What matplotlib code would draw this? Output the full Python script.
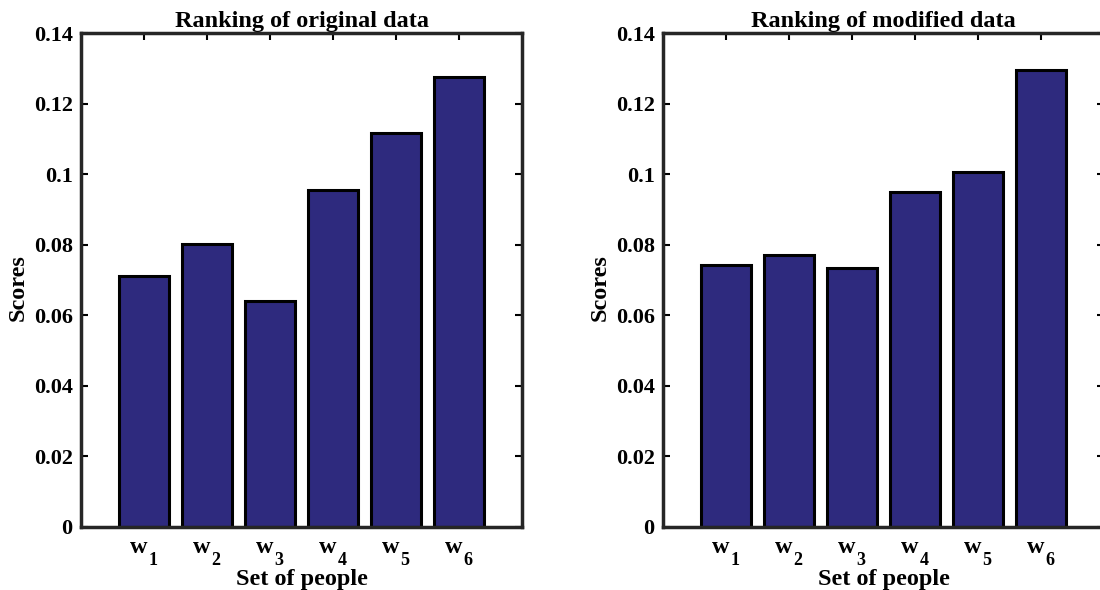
import matplotlib
matplotlib.use("Agg")
import matplotlib.pyplot as plt
from matplotlib import transforms

plt.rcParams['font.family'] = ['Liberation Serif', 'DejaVu Serif']
plt.rcParams['font.weight'] = 'bold'

categories = ['1', '2', '3', '4', '5', '6']
original_scores = [0.0711, 0.0802, 0.0641, 0.0954, 0.1116, 0.1274]
modified_scores = [0.0741, 0.0771, 0.0733, 0.0949, 0.1005, 0.1295]
ytick_values = [0, 0.02, 0.04, 0.06, 0.08, 0.10, 0.12, 0.14]
ytick_labels = ['0', '0.02', '0.04', '0.06', '0.08', '0.1', '0.12', '0.14']
titles = ['Ranking of original data', 'Ranking of modified data']

bar_color = '#2e2a7e'

fig = plt.figure(figsize=(11, 5.9), dpi=100)
positions = [[0.0736, 0.107, 0.401, 0.837], [0.6027, 0.107, 0.401, 0.837]]

for pos, scores, title in zip(positions, [original_scores, modified_scores], titles):
    ax = fig.add_axes(pos)
    x = list(range(1, len(categories) + 1))
    ax.bar(x, scores, width=0.8, color=bar_color, edgecolor='black', linewidth=2.2, zorder=2)
    ax.set_xlim(0, 7)
    ax.set_ylim(0, 0.14)
    ax.set_xticks(x)
    ax.set_xticklabels([''] * len(x))
    ax.set_yticks(ytick_values)
    ax.set_yticklabels(ytick_labels, fontsize=16, fontweight='bold')
    ax.tick_params(direction='in', length=5, width=1.5, top=True, right=True, pad=6)
    for s in ax.spines.values():
        s.set_linewidth(2.5)
        s.set_color('#262626')
    trans = transforms.blended_transform_factory(ax.transData, ax.transAxes)
    for xi, c in zip(x, categories):
        ax.text(xi + 0.05, -0.053, 'w', transform=trans, ha='right', va='baseline',
                fontsize=17.5, fontweight='bold')
        ax.text(xi + 0.07, -0.077, c, transform=trans, ha='left', va='baseline',
                fontsize=13, fontweight='bold')
    ax.set_title(title, fontsize=17.5, fontweight='bold', pad=4)
    ax.set_xlabel('Set of people', fontsize=17.5, fontweight='bold', va='baseline')
    ax.xaxis.set_label_coords(0.5, -0.118)
    ax.set_ylabel('Scores', fontsize=17.5, fontweight='bold', va='center')
    ax.yaxis.set_label_coords(-0.142, 0.485)

fig.savefig('out.png', dpi=100)
